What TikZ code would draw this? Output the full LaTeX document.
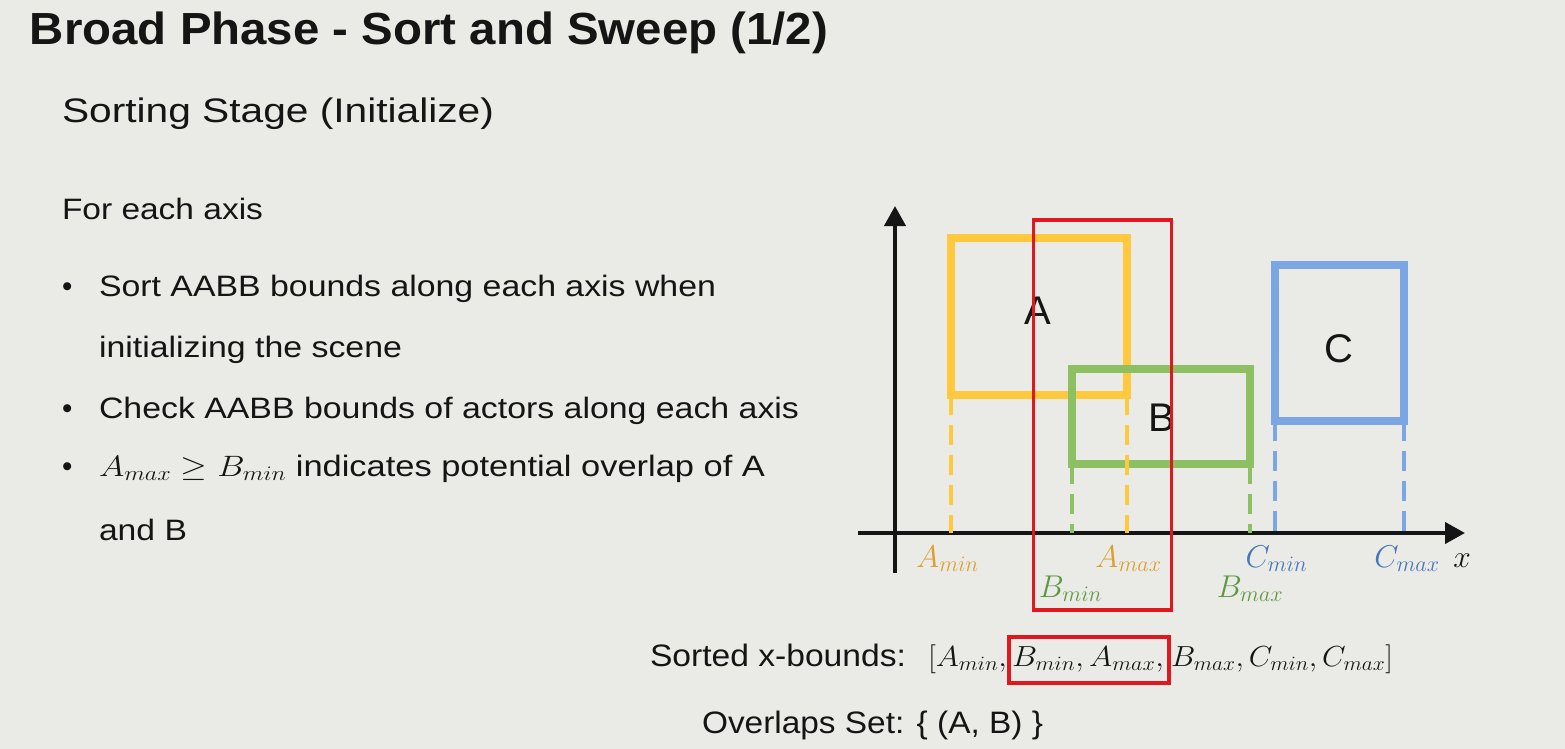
\RequirePackage{fix-cm}
\documentclass[tikz,border=0pt]{standalone}
\usepackage[no-math]{fontspec}
\setmainfont{Liberation Sans}
\usepackage{graphicx}
\usetikzlibrary{arrows.meta}
\definecolor{bg}{HTML}{EAEAE6}
\definecolor{ink}{HTML}{151515}
\definecolor{boxA}{HTML}{FFC83D}
\definecolor{boxB}{HTML}{8DC063}
\definecolor{boxC}{HTML}{7BA5E3}
\definecolor{redc}{HTML}{E0181E}
\definecolor{labA}{HTML}{DE9E30}
\definecolor{labB}{HTML}{5E9842}
\definecolor{labC}{HTML}{4676B8}
\newcommand\fitw[2]{\resizebox{#1}{\height}{#2}}
\newcommand\titlefnt{\fontsize{45}{50}\bfseries\selectfont}
\newcommand\subfnt{\fontsize{34}{40}\selectfont}
\newcommand\bodyfnt{\fontsize{29.5}{34}\selectfont}
\newcommand\lowfnt{\fontsize{31}{36}\selectfont}
\newcommand\mfnt{\fontsize{29}{32}\selectfont}
\newcommand\axfnt{\fontsize{31.5}{34}\selectfont}
\newcommand\boxfnt{\fontsize{40}{44}\selectfont}
\tikzset{
  txt/.style={inner sep=0pt, outer sep=0pt, text=ink, anchor=base west},
  aabb/.style={draw=#1, line width=8pt, inner sep=0pt, outer sep=0pt},
  redbox/.style={draw=redc, line width=3.5pt, inner sep=0pt, outer sep=0pt},
  proj/.style={draw=#1, line width=4pt, dash pattern=on 20pt off 10pt},
  axisline/.style={draw=ink, line width=4pt, -{Triangle[length=20pt,width=21pt]}},
  mlab/.style={inner sep=0pt, outer sep=0pt, anchor=base, text=#1, font=\axfnt},
  boxlab/.style={inner sep=0pt, outer sep=0pt, text=ink, font=\boxfnt},
}
\begin{document}
\begin{tikzpicture}[x=1pt,y=-1pt]
\useasboundingbox (0,0) rectangle (1565,749);
\fill[bg] (0,0) rectangle (1565,749);

% texts
\node[txt] (title) at (30,45) {\fitw{798pt}{\titlefnt Broad Phase - Sort and Sweep (1/2)}};
\node[txt] (sub) at (62,123) {\fitw{432pt}{\subfnt Sorting Stage (Initialize)}};
\node[txt] (foreach) at (62,219) {\fitw{201pt}{\bodyfnt For each axis}};
\node[txt] (b1) at (62,296) {\bodyfnt\textbullet};
\node[txt] (l1) at (99,296) {\fitw{617pt}{\bodyfnt Sort AABB bounds along each axis when}};
\node[txt] (l2) at (99,357) {\fitw{303pt}{\bodyfnt initializing the scene}};
\node[txt] (b2) at (62,418) {\bodyfnt\textbullet};
\node[txt] (l3) at (99,418) {\fitw{700pt}{\bodyfnt Check AABB bounds of actors along each axis}};
\node[txt] (b3) at (62,476) {\bodyfnt\textbullet};
\node[txt] (l4) at (99,476) {\fitw{666pt}{\bodyfnt $A_{max}\geq B_{min}$ indicates potential overlap of A}};
\node[txt] (l5) at (99,540) {\fitw{88pt}{\bodyfnt and B}};

% axes
\coordinate (O) at (895,533);
\coordinate (xs) at (858,533);
\coordinate (xe) at (1465,533);
\coordinate (ys) at (895,573);
\coordinate (ye) at (895,206);
\draw[axisline] (xs) -- (xe);
\draw[axisline] (ys) -- (ye);

% boxes
\node[aabb=boxA, minimum width=176pt, minimum height=157pt] (A) at (1039,316.5) {};
\node[aabb=boxB, minimum width=178pt, minimum height=95pt] (B) at (1161,416.5) {};
\node[aabb=boxC, minimum width=129pt, minimum height=156pt] (C) at (1339.5,342.5) {};
\node[boxlab] (Alab) at (1038,311) {A};
\node[boxlab] (Blab) at (1162,418) {B};
\node[boxlab] (Clab) at (1339,349) {C};

% projections
\draw[proj=boxA] (A.south west) -- (A.south west |- O);
\draw[proj=boxA] (A.south east) -- (A.south east |- O);
\draw[proj=boxB] (B.south west) -- (B.south west |- O);
\draw[proj=boxB] (B.south east) -- (B.south east |- O);
\draw[proj=boxC] (C.south west) -- (C.south west |- O);
\draw[proj=boxC] (C.south east) -- (C.south east |- O);

% axis labels
\node[mlab=labA] (amin) at (947.5,567) {$A_{min}$};
\node[mlab=labA] (amax) at (1128.5,567) {$A_{max}$};
\node[mlab=labB] (bmin) at (1070.5,597) {$B_{min}$};
\node[mlab=labB] (bmax) at (1250,597) {$B_{max}$};
\node[mlab=labC] (cmin) at (1276.5,567) {$C_{min}$};
\node[mlab=labC] (cmax) at (1407,567) {$C_{max}$};
\node[mlab=ink] (xl) at (1462,567) {$x$};

% overlap window
\node[redbox, minimum width=138pt, minimum height=390pt] (R) at (1102.5,415) {};

% sorted list
\node[txt] (sorted) at (650,666) {\fitw{256pt}{\lowfnt Sorted x-bounds:}};
\node[txt] (sb1) at (928,666) {\fitw{79pt}{\mfnt $[A_{min},$}};
\node[redbox, minimum width=160pt, minimum height=46pt] (sbR) at (1089,660) {};
\node[txt] (sb2) at (1012,666) {\fitw{152pt}{\mfnt $B_{min}, A_{max},$}};
\node[txt] (sb3) at (1171,666) {\fitw{222pt}{\mfnt $B_{max}, C_{min}, C_{max}]$}};
\node[txt] (ovl) at (702,733) {\fitw{341pt}{\lowfnt Overlaps Set: \{ (A, B) \}}};
\end{tikzpicture}
\end{document}
